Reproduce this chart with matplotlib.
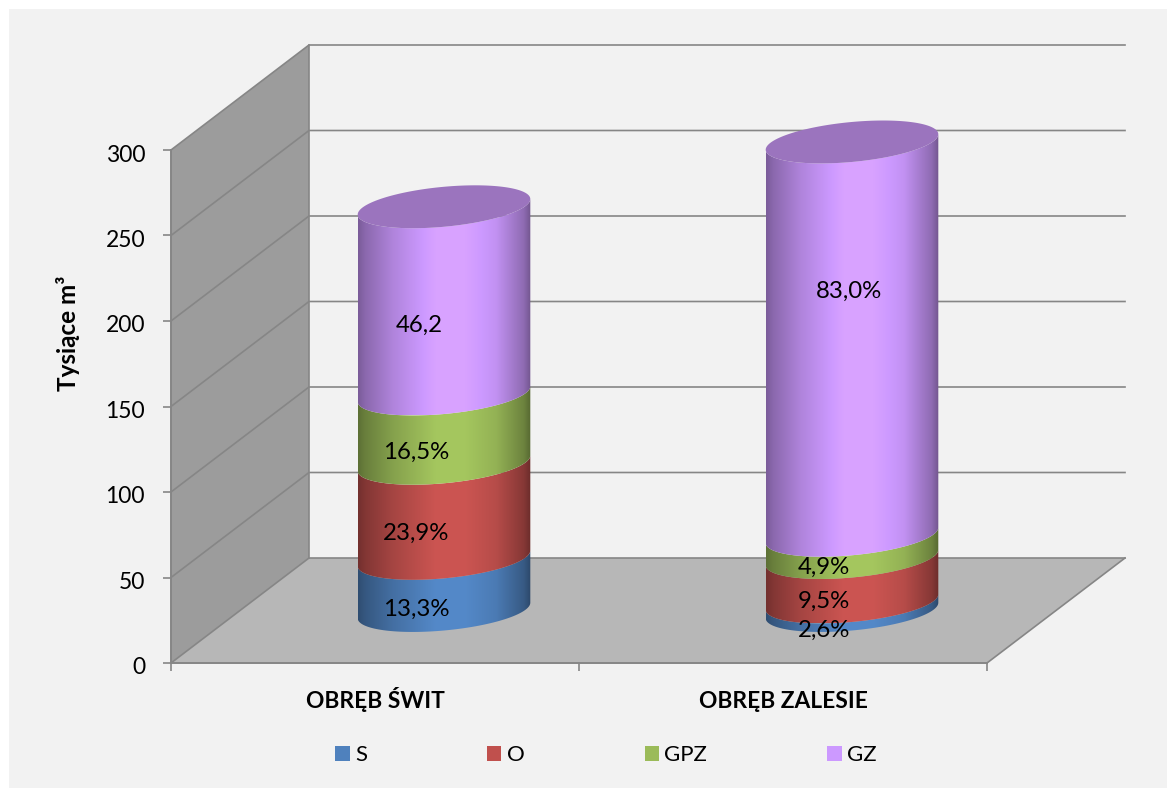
import numpy as np
import matplotlib
matplotlib.use("Agg")
import matplotlib.pyplot as plt
from matplotlib.patches import Polygon, Patch, Rectangle
from matplotlib.path import Path
from matplotlib.colors import to_rgb
from matplotlib.transforms import ScaledTranslation

plt.rcParams['font.family'] = ['Lato', 'DejaVu Sans']

# data
categories = ["OBRĘB ŚWIT", "OBRĘB ZALESIE"]
series_names = ["S", "O", "GPZ", "GZ"]
s_values = [30.5, 5.0]
o_values = [55.6, 26.0]
gpz_values = [40.5, 13.0]
gz_values = [109.5, 230.0]
s_labels = ["13,3%", "2,6%"]
o_labels = ["23,9%", "9,5%"]
gpz_labels = ["16,5%", "4,9%"]
gz_labels = ["46,2", "83,0%"]
y_ticks = [0, 50, 100, 150, 200, 250, 300]

series_colors = ["#4F81BD", "#C0504D", "#9BBB59", "#CC99FF"]
top_color = "#9B74BE"
line_color = "#868686"
FS = 16.5

# label centres in pixels of the picture, Excel moved them by hand
label_x = [[416, 416, 416, 419], [824, 824, 824, 849]]
label_y = [[609, 533, 452, 325], [630, 601, 567, 291]]

W, H = 1167, 789
AX_L, AX_R, AX_T, AX_B = 171, 987, 150, 663

fig = plt.figure(figsize=(W / 100, H / 100), dpi=100, facecolor="white")
fig.add_artist(Rectangle((9 / W, 1 / H), (W - 9) / W, (H - 10) / H, transform=fig.transFigure,
                         facecolor="#F2F2F2", edgecolor="none", zorder=-5))
ax = fig.add_axes([AX_L / W, 1 - AX_B / H, (AX_R - AX_L) / W, (AX_B - AX_T) / H])
ax.patch.set_visible(False)

px_x = (AX_R - AX_L) / 2
px_y = (AX_B - AX_T) / 300
depth_x = 138 / px_x
depth_y = 105 / px_y

# walls and floor
ax.add_patch(Polygon([(0, 0), (depth_x, depth_y), (depth_x, 300 + depth_y), (0, 300)],
                     facecolor="#9C9C9C", edgecolor="none", clip_on=False, zorder=1))
ax.add_patch(Polygon([(0, 0), (2, 0), (2 + depth_x, depth_y), (depth_x, depth_y)],
                     facecolor="#B7B7B7", edgecolor="none", clip_on=False, zorder=1))
for t in y_ticks:
    ax.plot([0, depth_x, 2 + depth_x], [t, t + depth_y, t + depth_y], color=line_color, lw=1.2,
            clip_on=False, zorder=2, solid_joinstyle="miter")
ax.plot([depth_x, depth_x], [depth_y, 300 + depth_y], color=line_color, lw=1.2, clip_on=False, zorder=2)
ax.plot([2, 2 + depth_x], [0, depth_y], color=line_color, lw=1.2, clip_on=False, zorder=2)

# cylinders
radius_px = 86.3
slant = 0.09
minor_px = 20.0
stops = [0, 0.04, 0.2, 0.45, 0.62, 0.8, 0.96, 1]
shade = [0.6, 0.68, 0.86, 1.06, 1.06, 0.95, 0.7, 0.56]


def ellipse_pts(cx, cy, t):
    return np.column_stack([cx + radius_px * np.cos(t) / px_x,
                            cy + (radius_px * slant * np.cos(t) + minor_px * np.sin(t)) / px_y])


all_values = [s_values, o_values, gpz_values, gz_values]
front = np.linspace(np.pi, 2 * np.pi, 80)
grad_x = np.linspace(0, 1, 256)
for i in range(len(categories)):
    cx = i + 0.5 + depth_x / 2
    level = depth_y / 2
    for k in range(len(series_names)):
        upper = level + all_values[k][i]
        low_pts = ellipse_pts(cx, level, front)
        up_pts = ellipse_pts(cx, upper, front)[::-1]
        verts = np.vstack([low_pts, up_pts, low_pts[:1]])
        path = Path(verts, closed=True)
        f = np.interp(grad_x, stops, shade)
        rgb = np.clip(np.outer(f, to_rgb(series_colors[k])), 0, 1)[None, :, :]
        im = ax.imshow(rgb, extent=[verts[:, 0].min(), verts[:, 0].max(), verts[:, 1].min(), verts[:, 1].max()],
                       aspect="auto", zorder=3, interpolation="bilinear")
        im.set_clip_box(fig.bbox)
        im.set_clip_path(path, ax.transData)
        level = upper
    ax.add_patch(Polygon(ellipse_pts(cx, level, np.linspace(0, 2 * np.pi, 160)), closed=True,
                         facecolor=top_color, edgecolor="none", clip_on=False, zorder=4))

# data labels
all_labels = [s_labels, o_labels, gpz_labels, gz_labels]
for i in range(len(categories)):
    for k in range(len(series_names)):
        ax.text((label_x[i][k] - AX_L) / px_x, (AX_B - label_y[i][k]) / px_y, all_labels[k][i],
                ha="center", va="center", fontsize=17.3, color="black", zorder=6, clip_on=False)

ax.set_xlim(0, 2)
ax.set_ylim(0, 300)

for side in ["top", "right"]:
    ax.spines[side].set_visible(False)
for side in ["left", "bottom"]:
    ax.spines[side].set_color(line_color)
    ax.spines[side].set_linewidth(1.4)
    ax.spines[side].set_zorder(5)

ax.set_yticks(y_ticks)
ax.tick_params(axis="y", length=6, width=1.2, color=line_color, pad=12.7, labelsize=FS)
# digits sit a bit lower than the tick in the original
down = ScaledTranslation(0, -3 / 100, fig.dpi_scale_trans)
for lab in ax.get_yticklabels():
    lab.set_transform(lab.get_transform() + down)

ax.set_xticks([0, 1, 2])
ax.set_xticklabels([])
ax.set_xticks([0.5, 1.5], minor=True)
ax.set_xticklabels(categories, minor=True, fontsize=16.4, fontweight="bold", va="baseline")
ax.tick_params(axis="x", which="major", length=6, width=1.2, color=line_color)
ax.tick_params(axis="x", which="minor", length=0, pad=32.5)

ax.set_ylabel("Tysiące m³", fontsize=17.5, fontweight="bold")
ax.yaxis.set_label_coords((80 - AX_L) / (AX_R - AX_L), (AX_B - 333) / (AX_B - AX_T))

handles = [Patch(facecolor=c, edgecolor="none") for c in series_colors]
ax.legend(handles, series_names, ncol=4, frameon=False, fontsize=16, loc="center",
          bbox_to_anchor=(606 / W, 1 - 755 / H), bbox_transform=fig.transFigure,
          handlelength=0.64, handleheight=0.64, handletextpad=0.25, columnspacing=5.4, borderpad=0)

fig.savefig("out.png", dpi=100)
